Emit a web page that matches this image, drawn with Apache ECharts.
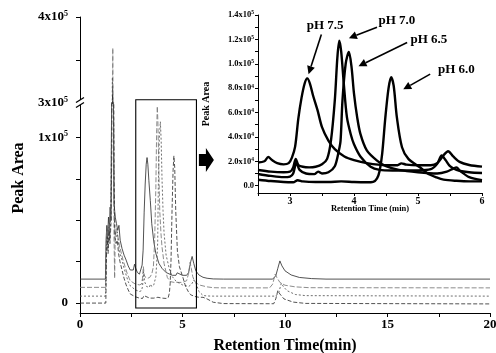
<!DOCTYPE html>
<html><head><meta charset="utf-8">
<script src="https://cdn.jsdelivr.net/npm/echarts@6/dist/echarts.min.js"></script>
<style>html,body{margin:0;padding:0;background:#fff}#c{width:496px;height:353px}</style>
</head><body><div id="c"></div>
<script>
// ---------- DATA ----------
const traceNames = ['pH 7.5', 'pH 7.0', 'pH 6.5', 'pH 6.0'];

// main chromatogram, 0 - 2.5 min
const pre75 = [[0,14500],[1.24,14500],[1.27,38000],[1.31,47000],[1.35,40000],[1.39,52000],[1.43,44000],[1.47,58000],[1.51,50000],[1.55,140000],[1.59,320000],[1.62,150000],[1.66,60000],[1.72,52000],[1.78,48000],[1.84,44000],[1.9,47000],[1.96,38000],[2.05,33000],[2.15,29000],[2.25,26000],[2.35,22500],[2.45,20000]];
const pre70 = [[0,9500],[1.25,9500],[1.28,35000],[1.32,44000],[1.36,36000],[1.4,48000],[1.44,41000],[1.48,55000],[1.52,60000],[1.56,180000],[1.6,364000],[1.63,160000],[1.66,40000],[1.69,15000],[1.72,42000],[1.78,45000],[1.85,40000],[1.92,35000],[2.0,31000],[2.1,26000],[2.2,22000],[2.3,18000],[2.4,15000],[2.45,13500]];
const pre65 = [[0,4200],[1.25,4200],[1.28,30000],[1.32,42000],[1.36,33000],[1.41,46000],[1.45,38000],[1.5,52000],[1.54,100000],[1.58,330000],[1.61,180000],[1.65,70000],[1.7,45000],[1.76,40000],[1.82,43000],[1.88,35000],[1.95,30000],[2.05,26000],[2.15,21000],[2.25,17000],[2.35,13000],[2.45,10500]];
const pre60 = [[0,0],[1.26,0],[1.29,28000],[1.33,40000],[1.37,30000],[1.42,44000],[1.46,36000],[1.51,48000],[1.55,90000],[1.59,310000],[1.62,200000],[1.66,80000],[1.7,40000],[1.76,36000],[1.82,38000],[1.88,30000],[1.95,25000],[2.05,20000],[2.15,15000],[2.25,11000],[2.35,8000],[2.45,5500]];

// 2.5 - 6 min (shown enlarged in the inset)
const win75 = [[2.5,19000],[2.6,20000],[2.66,23500],[2.72,21000],[2.8,18500],[2.9,17500],[2.98,18500],[3.03,23000],[3.08,32000],[3.13,55000],[3.18,72000],[3.23,84000],[3.27,88000],[3.31,84000],[3.36,74000],[3.43,62000],[3.5,48000],[3.6,37000],[3.7,30000],[3.85,24000],[4.0,21000],[4.2,18500],[4.5,16800],[4.68,16800],[4.74,18300],[4.82,17300],[5.0,16800],[5.2,16800],[5.3,18500],[5.4,25000],[5.47,28200],[5.55,24000],[5.65,19500],[5.8,17000],[6.0,15600]];
const win70 = [[2.5,12900],[2.7,11500],[2.9,11000],[3.0,11500],[3.05,15000],[3.09,22000],[3.13,17000],[3.2,15500],[3.3,15000],[3.4,15500],[3.5,17500],[3.58,22000],[3.64,37000],[3.7,70000],[3.74,105000],[3.77,119000],[3.8,110000],[3.84,84000],[3.89,56000],[3.95,42000],[4.0,34000],[4.1,24000],[4.26,15500],[4.4,13000],[4.6,12500],[5.0,12500],[5.2,13500],[5.3,18000],[5.37,24700],[5.43,21000],[5.5,16000],[5.6,13000],[5.8,11000],[6.0,10400]];
const win65 = [[2.5,9600],[2.7,8000],[2.9,7000],[3.0,7500],[3.05,10000],[3.1,19000],[3.15,13000],[3.25,10000],[3.38,9500],[3.44,11500],[3.5,10000],[3.6,11000],[3.7,16000],[3.76,28000],[3.79,37000],[3.82,70000],[3.87,100000],[3.92,109700],[3.96,98000],[4.0,75500],[4.05,56000],[4.1,42500],[4.2,29000],[4.36,20600],[4.5,16000],[4.7,13000],[5.0,11000],[5.3,10000],[5.45,11500],[5.55,14000],[5.6,15000],[5.66,12000],[5.8,7000],[6.0,4600]];
const win60 = [[2.5,4900],[2.7,3800],[2.9,3000],[3.05,2800],[3.12,4500],[3.2,3500],[3.4,3000],[3.6,3000],[3.8,3500],[4.0,3000],[4.2,2800],[4.3,3200],[4.36,6000],[4.4,12000],[4.44,26000],[4.49,56000],[4.54,80000],[4.58,89000],[4.62,82000],[4.67,56000],[4.75,31500],[4.85,22000],[5.03,15100],[5.15,10000],[5.29,6800],[5.4,5000],[5.6,4000],[5.8,3500],[6.0,3500]];

// main chromatogram, 6 - 20 min
const post75 = [[6.2,15000],[6.5,14600],[7,14500],[9.4,14500],[9.55,16500],[9.65,21000],[9.75,25500],[9.85,22500],[10.0,19500],[10.3,17000],[10.7,15500],[11.3,14800],[12,14500],[20,14500]];
const post70 = [[6.2,9800],[6.5,9300],[7,9200],[9.25,9200],[9.4,11500],[9.52,17500],[9.6,15500],[9.75,12500],[10.0,10800],[10.5,9800],[11.2,9300],[20,9200]];
const post65 = [[6.2,4300],[6.5,4200],[7,4200],[9.55,4200],[9.7,6500],[9.82,12000],[9.92,10000],[10.1,7500],[10.5,5200],[11,4500],[20,4200]];
const post60 = [[6.2,2500],[6.5,500],[7,-300],[9.45,-400],[9.55,2500],[9.65,7500],[9.75,5500],[9.95,2500],[10.4,600],[11,-200],[20,-500]];

// tick values
const mainXTicks = [0,2.5,5,7.5,10,12.5,15,17.5,20];
const mainXLabels = [0,5,10,15,20];
const lowYTicks = [0,25000,50000,75000,100000];
const lowYLabels = [0,100000];
const upYTicks = [350000,400000];
const upYLabels = [300000,400000];
const insXTicks = [2.5,3,3.5,4,4.5,5,5.5,6];
const insXLabels = [3,4,5,6];
const insYTicks = [0,10000,20000,30000,40000,50000,60000,70000,80000,90000,100000,110000,120000,130000,140000];
const insYLabels = [0,20000,40000,60000,80000,100000,120000,140000];

// ---------- CHART ----------
const FONT = "'Liberation Serif','Times New Roman',serif";
const mainTraces = [
  pre75.concat(win75, post75),
  pre70.concat(win70, post70),
  pre65.concat(win65, post65),
  pre60.concat(win60, post60)
];
const insetTraces = [win75, win70, win65, win60];
const mainStyles = [
  {color:'#333', type:'solid'},
  {color:'#777', type:[5,2]},
  {color:'#555', type:[2,2]},
  {color:'#333', type:[4,2]}
];

function sci(v, small) {
  if (v === 0) return small ? '{b|0.0}' : '{b|0}';
  const e = Math.floor(Math.log10(v) + 1e-9);
  const m = v / Math.pow(10, e);
  const ms = small ? m.toFixed(1) : String(Math.round(m));
  return '{b|' + ms + 'x10}{s|' + e + '}';
}
const richMain = {b:{fontFamily:FONT,fontWeight:'bold',fontSize:13,color:'#000',lineHeight:15},
                  s:{fontFamily:FONT,fontWeight:'bold',fontSize:8,color:'#000',lineHeight:8,verticalAlign:'top'}};
const richIns = {b:{fontFamily:FONT,fontWeight:'bold',fontSize:8.5,color:'#000',lineHeight:10},
                 s:{fontFamily:FONT,fontWeight:'bold',fontSize:5.5,color:'#000',lineHeight:5,verticalAlign:'top'}};

const axisLine = {show:true, lineStyle:{color:'#000', width:1}};
const series = [];
mainTraces.forEach((d, i) => {
  [0,1].forEach(g => {
    series.push({type:'line', name:traceNames[i], xAxisIndex:g, yAxisIndex:g, data:d,
      showSymbol:false, clip:true, silent:true, animation:false,
      lineStyle:{width:0.85, color:mainStyles[i].color, type:mainStyles[i].type}});
  });
});
insetTraces.forEach((d, i) => {
  series.push({type:'line', name:traceNames[i], xAxisIndex:2, yAxisIndex:2, data:d,
    showSymbol:false, smooth:0.3, clip:true, silent:true, animation:false,
    lineStyle:{width:2.4, color:'#000'}});
});

const option = {
  animation:false,
  backgroundColor:'#fff',
  grid:[
    {left:80, right:6, top:17, height:86, outerBoundsMode:'none', containLabel:false},
    {left:80, right:6, top:103, bottom:40, outerBoundsMode:'none', containLabel:false},
    {left:258, right:14, top:15, bottom:160, outerBoundsMode:'none', containLabel:false}
  ],
  xAxis:[
    {gridIndex:0, type:'value', min:0, max:20, show:false},
    {gridIndex:1, type:'value', min:0, max:20, axisLine:{...axisLine, onZero:false}, splitLine:{show:false},
      axisTick:{show:true, inside:false, length:4, customValues:mainXTicks, lineStyle:{color:'#000'}},
      axisLabel:{customValues:mainXLabels, margin:5, fontFamily:FONT, fontWeight:'bold', fontSize:13, color:'#000'},
      name:'Retention Time(min)', nameLocation:'middle', nameGap:25, nameMoveOverlap:false,
      nameTextStyle:{fontFamily:FONT, fontWeight:'bold', fontSize:16, color:'#000'}},
    {gridIndex:2, type:'value', min:2.5, max:6, axisLine:{...axisLine, onZero:false}, splitLine:{show:false},
      axisTick:{show:true, length:3, customValues:insXTicks, lineStyle:{color:'#000'}},
      axisLabel:{customValues:insXLabels, margin:3, fontFamily:FONT, fontWeight:'bold', fontSize:10, color:'#000'},
      name:'Retention Time (min)', nameLocation:'middle', nameGap:11, nameMoveOverlap:false,
      nameTextStyle:{fontFamily:FONT, fontWeight:'bold', fontSize:8.5, color:'#000'}}
  ],
  yAxis:[
    {gridIndex:0, type:'value', min:300000, max:400000, axisLine:axisLine, splitLine:{show:false},
      axisTick:{show:true, length:4, customValues:upYTicks, lineStyle:{color:'#000'}},
      axisLabel:{customValues:upYLabels, margin:12, formatter:v=>sci(v,false), rich:richMain}},
    {gridIndex:1, type:'value', min:-6000, max:121000, axisLine:axisLine, splitLine:{show:false},
      axisTick:{show:true, length:4, customValues:lowYTicks, lineStyle:{color:'#000'}},
      axisLabel:{customValues:lowYLabels, margin:12, formatter:v=>sci(v,false), rich:richMain}},
    {gridIndex:2, type:'value', min:-6000, max:140000, axisLine:axisLine, splitLine:{show:false},
      axisTick:{show:true, length:3, customValues:insYTicks, lineStyle:{color:'#000'}},
      axisLabel:{customValues:insYLabels, margin:4, formatter:v=>sci(v,true), rich:richIns},
      name:'Peak Area', nameLocation:'middle', nameGap:47, nameMoveOverlap:false,
      nameTextStyle:{fontFamily:FONT, fontWeight:'bold', fontSize:10, color:'#000'}}
  ],
  series:series
};

const chart = echarts.init(document.getElementById('c'), null, {renderer:'canvas'});
chart.setOption(option);

// ---------- ANNOTATIONS ----------
const P = (g, x, y) => chart.convertToPixel({gridIndex:g}, [x, y]);
const zoomBox = {x0:2.72, x1:5.68, yTop:123000, yBot:-3000};
const bigArrow = {x:5.8, y:86500};
const labels = [
  {text:'pH 7.5', at:[3.55,131500], from:[3.49,124000], to:[3.29,91500]},
  {text:'pH 7.0', at:[4.67,135500], from:[4.36,130000], to:[3.92,121000]},
  {text:'pH 6.5', at:[5.17,120000], from:[4.83,117500], to:[4.07,98000]},
  {text:'pH 6.0', at:[5.6,95500], from:[5.19,91500], to:[4.77,79000]}
];

function arrowShapes(a, b, hl, hw) {
  const dx = b[0]-a[0], dy = b[1]-a[1], L = Math.hypot(dx,dy);
  const ux = dx/L, uy = dy/L, px = -uy, py = ux;
  const base = [b[0]-ux*hl, b[1]-uy*hl];
  return [
    {type:'line', shape:{x1:a[0], y1:a[1], x2:base[0], y2:base[1]}, style:{stroke:'#000', lineWidth:1.6}},
    {type:'polygon', shape:{points:[b, [base[0]+px*hw, base[1]+py*hw], [base[0]-px*hw, base[1]-py*hw]]}, style:{fill:'#000'}}
  ];
}

const g = [];
const b0 = P(1, zoomBox.x0, zoomBox.yTop), b1 = P(1, zoomBox.x1, zoomBox.yBot);
g.push({type:'rect', shape:{x:b0[0], y:b0[1], width:b1[0]-b0[0], height:b1[1]-b0[1]}, style:{fill:null, stroke:'#000', lineWidth:1.1}});
const ac = P(1, bigArrow.x, bigArrow.y);
g.push({type:'polygon', shape:{points:[[ac[0],ac[1]-6],[ac[0]+7,ac[1]-6],[ac[0]+7,ac[1]-12],[ac[0]+15,ac[1]],[ac[0]+7,ac[1]+12],[ac[0]+7,ac[1]+6],[ac[0],ac[1]+6]]}, style:{fill:'#000'}});
// axis break
const br = P(1, 0, 121000);
g.push({type:'rect', shape:{x:br[0]-2, y:br[1]-3, width:4, height:5}, style:{fill:'#fff'}});
g.push({type:'line', shape:{x1:br[0]-4, y1:br[1]-0.5, x2:br[0]+4, y2:br[1]-5.5}, style:{stroke:'#000', lineWidth:1.3}});
g.push({type:'line', shape:{x1:br[0]-4, y1:br[1]+4.5, x2:br[0]+4, y2:br[1]-0.5}, style:{stroke:'#000', lineWidth:1.3}});
// main y title
g.push({type:'text', x:19, y:178, rotation:Math.PI/2, style:{text:'Peak Area', fontFamily:FONT, fontWeight:'bold', fontSize:16, fill:'#000', align:'center', verticalAlign:'middle'}});
labels.forEach(l => {
  const t = P(2, l.at[0], l.at[1]);
  g.push({type:'text', x:t[0], y:t[1], style:{text:l.text, fontFamily:FONT, fontWeight:'bold', fontSize:13, fill:'#000', align:'center', verticalAlign:'middle'}});
  arrowShapes(P(2, l.from[0], l.from[1]), P(2, l.to[0], l.to[1]), 8, 4).forEach(s => g.push(s));
});
chart.setOption({graphic:g.map(e => Object.assign({z:100, silent:true}, e))});
</script>
</body></html>
